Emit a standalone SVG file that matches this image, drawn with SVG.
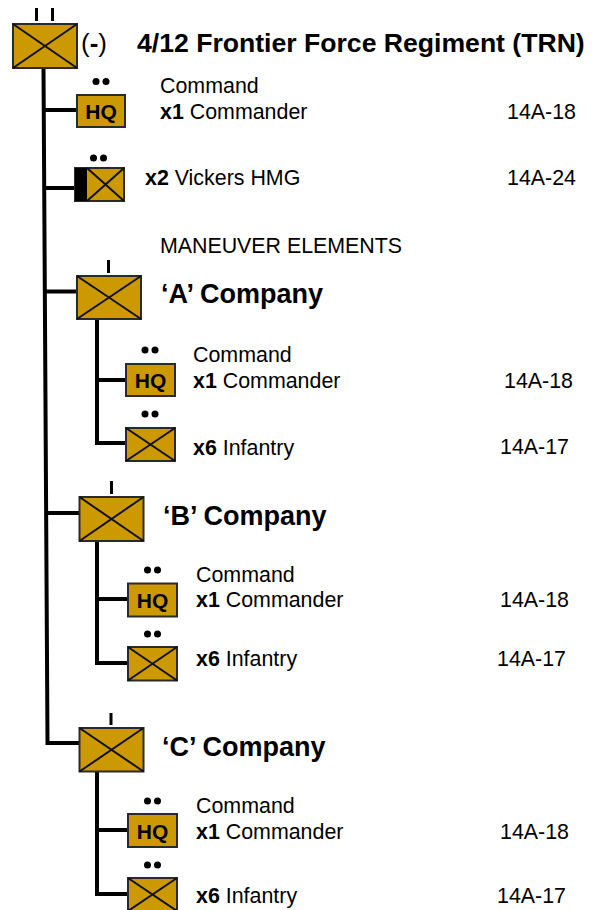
<svg xmlns="http://www.w3.org/2000/svg" width="599" height="910" viewBox="0 0 599 910">
<style>
text{font-family:"Liberation Sans",Arial,sans-serif;fill:#000}
.t{font-size:21.400px}
.h{font-size:27px;font-weight:bold}
.hq{font-size:21px;font-weight:bold;text-anchor:middle}
.b{font-weight:bold}
.box{fill:#cc9900;stroke:#2a2a2a;stroke-width:2}
.x{stroke:#111;stroke-width:2;fill:none}
.c{stroke:#000;stroke-width:4;fill:none}
.tick{stroke:#000;stroke-width:3;fill:none}
</style>
<rect width="599" height="910" fill="#fff"/>
<g id="connectors">
<path class="c" d="M43.500 68L47.500 743H79"/>
<path class="c" d="M44 110H77M44 188H75M45 291.500H77M46 513H80"/>
<path class="c" d="M97 319V443H126M97 380H126"/>
<path class="c" d="M97 541V663H128M97 599H128"/>
<path class="c" d="M97 772V894H128M97 830H128"/>
</g>
<g id="bn">
<path class="tick" d="M36.500 8V21M52.500 8V21"/>
<rect class="box" x="13" y="24" width="64" height="44"/>
<path class="x" d="M13 24L77 68M77 24L13 68"/>
<text x="81" y="52" font-size="26">(<tspan class="b">-</tspan>)</text>
<text x="137" y="52" font-size="26.600" class="b">4/12 Frontier Force Regiment (TRN)</text>
</g>
<g id="hq">
<circle cx="96" cy="81.500" r="3.500"/><circle cx="106" cy="81.500" r="3.500"/>
<rect class="box" x="77" y="95" width="48" height="32"/>
<text class="hq" x="101" y="118.500">HQ</text>
<text class="t" x="160" y="93">Command</text>
<text class="t" x="160" y="119"><tspan class="b">x1</tspan> Commander</text>
<text class="t" x="507" y="119">14A-18</text>
</g>
<g id="hmg">
<circle cx="93.500" cy="158" r="3.500"/><circle cx="103.500" cy="158" r="3.500"/>
<rect class="box" x="75" y="168" width="49" height="33"/>
<rect x="75" y="168" width="12" height="33" fill="#000"/>
<path class="x" d="M87 168L124 201M124 168L87 201"/>
<text class="t" x="145" y="185"><tspan class="b">x2</tspan> Vickers HMG</text>
<text class="t" x="507" y="185">14A-24</text>
</g>
<text id="maneuver" x="160" y="253" font-size="21.400" textLength="242">MANEUVER ELEMENTS</text>
<g id="a">
<path class="tick" d="M108.500 260V273"/>
<rect class="box" x="77" y="276" width="64" height="43"/>
<path class="x" d="M77 276L141 319M141 276L77 319"/>
<text class="h" x="161" y="303">‘A’ Company</text>
</g>
<g id="a-hq">
<circle cx="145" cy="350" r="3.500"/><circle cx="155" cy="350" r="3.500"/>
<rect class="box" x="126" y="364" width="49" height="32"/>
<text class="hq" x="150.500" y="387.500">HQ</text>
<text class="t" x="193" y="362">Command</text>
<text class="t" x="193" y="388"><tspan class="b">x1</tspan> Commander</text>
<text class="t" x="504" y="388">14A-18</text>
</g>
<g id="a-inf">
<circle cx="145" cy="414" r="3.500"/><circle cx="155" cy="414" r="3.500"/>
<rect class="box" x="126" y="428" width="49" height="33"/>
<path class="x" d="M126 428L175 461M175 428L126 461"/>
<text class="t" x="193" y="455"><tspan class="b">x6</tspan> Infantry</text>
<text class="t" x="500" y="454">14A-17</text>
</g>
<g id="b">
<path class="tick" d="M111.500 481V494"/>
<rect class="box" x="79.500" y="497" width="64" height="44"/>
<path class="x" d="M79.500 497L143.500 541M143.500 497L79.500 541"/>
<text class="h" x="163" y="525">‘B’ Company</text>
</g>
<g id="b-hq">
<circle cx="147.500" cy="570" r="3.500"/><circle cx="157.500" cy="570" r="3.500"/>
<rect class="box" x="128" y="583.500" width="49" height="33"/>
<text class="hq" x="152.500" y="607.500">HQ</text>
<text class="t" x="196" y="582">Command</text>
<text class="t" x="196" y="607"><tspan class="b">x1</tspan> Commander</text>
<text class="t" x="500" y="607">14A-18</text>
</g>
<g id="b-inf">
<circle cx="147.500" cy="634" r="3.500"/><circle cx="157.500" cy="634" r="3.500"/>
<rect class="box" x="128" y="647" width="49" height="33.500"/>
<path class="x" d="M128 647L177 680.500M177 647L128 680.500"/>
<text class="t" x="196" y="666"><tspan class="b">x6</tspan> Infantry</text>
<text class="t" x="497" y="666">14A-17</text>
</g>
<g id="c">
<path class="tick" d="M111 713V725"/>
<rect class="box" x="79.500" y="728" width="64" height="43.500"/>
<path class="x" d="M79.500 728L143.500 771.500M143.500 728L79.500 771.500"/>
<text class="h" x="162" y="756">‘C’ Company</text>
</g>
<g id="c-hq">
<circle cx="147.500" cy="801" r="3.500"/><circle cx="157.500" cy="801" r="3.500"/>
<rect class="box" x="128" y="814" width="49" height="33"/>
<text class="hq" x="152.500" y="838.500">HQ</text>
<text class="t" x="196" y="813">Command</text>
<text class="t" x="196" y="839"><tspan class="b">x1</tspan> Commander</text>
<text class="t" x="500" y="839">14A-18</text>
</g>
<g id="c-inf">
<circle cx="147.500" cy="865" r="3.500"/><circle cx="157.500" cy="865" r="3.500"/>
<rect class="box" x="128" y="878" width="49" height="33"/>
<path class="x" d="M128 878L177 911M177 878L128 911"/>
<text class="t" x="196" y="903"><tspan class="b">x6</tspan> Infantry</text>
<text class="t" x="497" y="903">14A-17</text>
</g>
</svg>
